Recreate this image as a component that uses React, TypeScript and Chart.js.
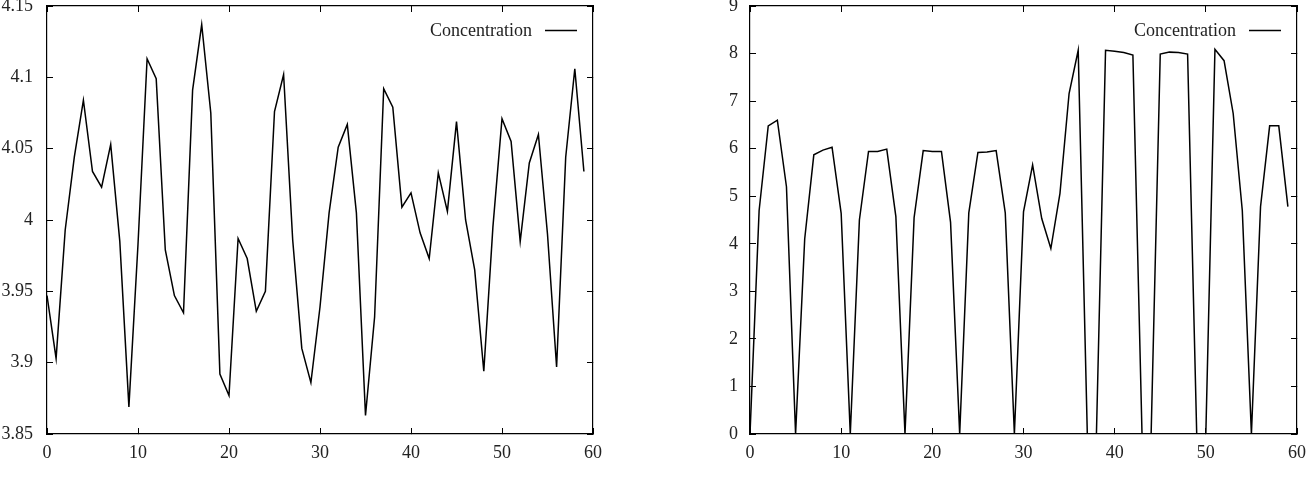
import React, { useEffect, useRef } from 'react';
import { Chart, registerables } from 'chart.js';

Chart.register(...registerables);

const seriesLabel = 'Concentration';

const leftValues = [
  3.947, 3.903, 3.993, 4.044, 4.084, 4.034, 4.023, 4.053, 3.985, 3.869,
  3.983, 4.113, 4.099, 3.979, 3.947, 3.935, 4.091, 4.137, 4.075, 3.892,
  3.877, 3.987, 3.973, 3.936, 3.95, 4.076, 4.102, 3.986, 3.91, 3.886,
  3.939, 4.005, 4.051, 4.067, 4.005, 3.863, 3.932, 4.092, 4.079, 4.009,
  4.019, 3.991, 3.973, 4.033, 4.006, 4.069, 4.0, 3.965, 3.894, 3.995,
  4.071, 4.055, 3.985, 4.04, 4.06, 3.99, 3.897, 4.044, 4.106, 4.034,
];

const rightValues = [
  0, 4.7, 6.48, 6.6, 5.2, 0, 4.1, 5.87, 5.97, 6.03,
  4.64, 0, 4.5, 5.94, 5.94, 5.99, 4.57, 0, 4.55, 5.96,
  5.94, 5.94, 4.45, 0, 4.65, 5.92, 5.93, 5.96, 4.65, 0,
  4.67, 5.66, 4.53, 3.9, 5.06, 7.16, 8.07, 0, 0, 8.07,
  8.05, 8.02, 7.97, 0, 0, 7.99, 8.03, 8.02, 7.99, 0,
  0, 8.09, 7.85, 6.74, 4.7, 0, 4.78, 6.48, 6.48, 4.78,
];

const xTicks = [0, 10, 20, 30, 40, 50, 60];
const leftYTicks = [3.85, 3.9, 3.95, 4, 4.05, 4.1, 4.15];
const rightYTicks = [0, 1, 2, 3, 4, 5, 6, 7, 8, 9];

const FONT = '"Liberation Serif", "DejaVu Serif", serif';
const TEXT = '#222';

const legendPlugin = {
  id: 'gnuLegend',
  afterDraw(chart: any) {
    const { ctx, chartArea } = chart;
    const ds = chart.data.datasets[0];
    ctx.save();
    ctx.font = `18px ${FONT}`;
    ctx.fillStyle = TEXT;
    ctx.textAlign = 'right';
    ctx.textBaseline = 'middle';
    ctx.fillText(ds.label, chartArea.right - 61, chartArea.top + 25);
    ctx.strokeStyle = '#000';
    ctx.lineWidth = 1.5;
    ctx.beginPath();
    ctx.moveTo(chartArea.right - 48, chartArea.top + 24.5);
    ctx.lineTo(chartArea.right - 16, chartArea.top + 24.5);
    ctx.stroke();
    ctx.restore();
  },
};

function setTicks(values: number[]) {
  return (scale: any) => {
    scale.ticks = values.map((v) => ({ value: v }));
  };
}

function fitSize(dim: 'width' | 'height', size: number) {
  return (s: any) => {
    s[dim] = size;
    s.paddingTop = 0;
    s.paddingBottom = 0;
    s.paddingLeft = 0;
    s.paddingRight = 0;
  };
}

function makeConfig(
  values: number[],
  yTicks: number[],
  yAxisWidth: number,
  padRight: number,
  labelPad: number,
) {
  const yMin = yTicks[0];
  const yMax = yTicks[yTicks.length - 1];
  const grid = {
    drawOnChartArea: false,
    drawTicks: true,
    tickLength: -6,
    color: '#000',
    lineWidth: 1,
  };
  const border = { display: true, color: '#000', width: 1.2 };
  return {
    type: 'line' as const,
    data: {
      datasets: [
        {
          label: seriesLabel,
          data: values.map((v, i) => ({ x: i, y: v })),
          borderColor: '#000',
          backgroundColor: '#000',
          borderWidth: 1.5,
          pointRadius: 0,
          tension: 0,
          fill: false,
        },
      ],
    },
    options: {
      responsive: false,
      animation: false as const,
      layout: { padding: { left: 0, right: padRight, top: 6, bottom: 0 } },
      plugins: { legend: { display: false }, tooltip: { enabled: false } },
      scales: {
        x: {
          type: 'linear' as const,
          position: 'bottom' as const,
          min: 0,
          max: 60,
          afterBuildTicks: setTicks(xTicks),
          afterFit: fitSize('height', 46),
          ticks: {
            font: { family: FONT, size: 18 },
            color: TEXT,
            padding: 14,
            maxRotation: 0,
            autoSkip: false,
            callback: (v: any) => String(v),
          },
          grid,
          border,
        },
        x2: {
          type: 'linear' as const,
          axis: 'x' as const,
          position: 'top' as const,
          min: 0,
          max: 60,
          afterBuildTicks: setTicks(xTicks),
          afterFit: fitSize('height', 0),
          ticks: { display: false },
          grid,
          border,
        },
        y: {
          type: 'linear' as const,
          position: 'left' as const,
          min: yMin,
          max: yMax,
          afterBuildTicks: setTicks(yTicks),
          afterFit: fitSize('width', yAxisWidth),
          ticks: {
            font: { family: FONT, size: 18, lineHeight: 0.6 },
            color: TEXT,
            padding: labelPad,
            autoSkip: false,
            callback: (v: any) => String(v),
          },
          grid,
          border,
        },
        y2: {
          type: 'linear' as const,
          axis: 'y' as const,
          position: 'right' as const,
          min: yMin,
          max: yMax,
          afterBuildTicks: setTicks(yTicks),
          afterFit: fitSize('width', 0),
          ticks: { display: false },
          grid,
          border,
        },
      },
    },
    plugins: [legendPlugin],
  };
}

function Panel(props: {
  left: number;
  values: number[];
  yTicks: number[];
  yAxisWidth: number;
  padRight: number;
  labelPad: number;
}) {
  const ref = useRef<HTMLCanvasElement | null>(null);
  useEffect(() => {
    if (!ref.current) return;
    const chart = new Chart(
      ref.current,
      makeConfig(props.values, props.yTicks, props.yAxisWidth, props.padRight, props.labelPad) as any,
    );
    return () => chart.destroy();
  }, []);
  return (
    <canvas
      ref={ref}
      width={657}
      height={480}
      style={{ position: 'absolute', left: props.left, top: 0, width: 657, height: 480 }}
    />
  );
}

export default function App() {
  return (
    <div
      style={{
        position: 'absolute',
        left: 0,
        top: 0,
        width: 1314,
        height: 480,
        background: '#fff',
        overflow: 'hidden',
      }}
    >
      <Panel left={0} values={leftValues} yTicks={leftYTicks} yAxisWidth={47} padRight={64} labelPad={20} />
      <Panel left={657} values={rightValues} yTicks={rightYTicks} yAxisWidth={93} padRight={17} labelPad={18} />
    </div>
  );
}
